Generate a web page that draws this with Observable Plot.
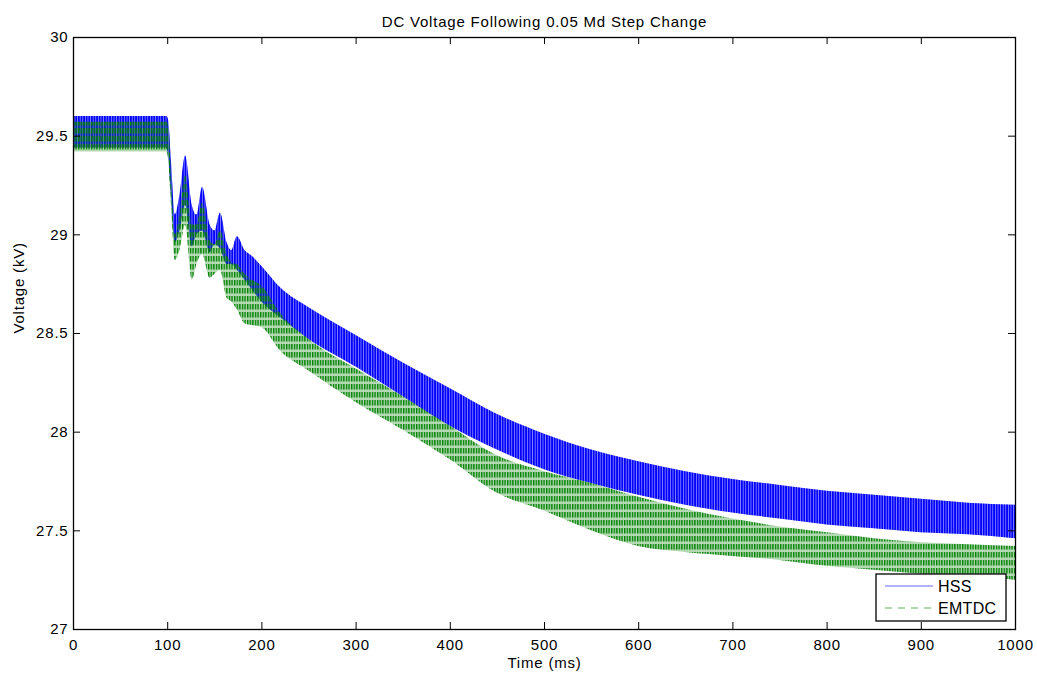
<!DOCTYPE html>
<html>
<head>
<meta charset="utf-8">
<script src="https://cdn.jsdelivr.net/npm/d3@7"></script>
<script src="https://cdn.jsdelivr.net/npm/@observablehq/plot@0.6"></script>
<style>
  html, body { margin: 0; padding: 0; background: #fff; }
  #chart { position: relative; width: 1037px; height: 677px; }
  svg { font-family: "Liberation Sans", Arial, sans-serif; }
  svg text { letter-spacing: 0.8px; }
</style>
</head>
<body>
<div id="chart"></div>
<script>
const titleText = "DC Voltage Following 0.05 Md Step Change";
const xLabel = "Time (ms)";
const yLabel = "Voltage (kV)";
const xTicks = [0, 100, 200, 300, 400, 500, 600, 700, 800, 900, 1000];
const yTicks = [27, 27.5, 28, 28.5, 29, 29.5, 30];
const seriesNames = ["HSS", "EMTDC"];

// sample times (ms) at which the ripple envelopes were read
const timeMs = [0, 99, 101, 104, 108, 113, 119, 126, 131, 137, 145, 150, 156, 163, 168, 174, 182, 190, 200, 220, 250, 300, 350, 400, 450, 500, 550, 600, 650, 700, 750, 800, 850, 900, 950, 1000];
// HSS ripple envelope (kV)
const hssHi = [29.60, 29.60, 29.58, 29.37, 29.10, 29.20, 29.40, 29.15, 29.10, 29.24, 29.05, 29.02, 29.11, 28.96, 28.92, 28.99, 28.92, 28.89, 28.84, 28.73, 28.63, 28.49, 28.35, 28.22, 28.09, 27.99, 27.91, 27.85, 27.80, 27.76, 27.73, 27.70, 27.68, 27.66, 27.64, 27.63];
const hssLo = [29.44, 29.44, 29.40, 29.20, 28.96, 29.02, 29.15, 28.94, 29.00, 29.02, 28.91, 28.95, 28.93, 28.85, 28.85, 28.82, 28.77, 28.72, 28.66, 28.58, 28.47, 28.33, 28.18, 28.03, 27.91, 27.81, 27.74, 27.68, 27.63, 27.59, 27.56, 27.53, 27.51, 27.49, 27.48, 27.46];
// EMTDC ripple envelope (kV)
const emtHi = [29.57, 29.57, 29.55, 29.30, 29.00, 29.10, 29.30, 29.05, 29.05, 29.16, 28.97, 28.95, 29.02, 28.90, 28.86, 28.85, 28.80, 28.77, 28.74, 28.60, 28.47, 28.32, 28.18, 28.03, 27.88, 27.80, 27.74, 27.67, 27.61, 27.56, 27.52, 27.49, 27.46, 27.44, 27.43, 27.42];
const emtLo = [29.42, 29.42, 29.38, 29.15, 28.87, 28.92, 29.05, 28.77, 28.85, 28.90, 28.78, 28.80, 28.82, 28.68, 28.66, 28.62, 28.55, 28.54, 28.53, 28.41, 28.31, 28.15, 28.01, 27.86, 27.69, 27.60, 27.50, 27.42, 27.39, 27.37, 27.35, 27.32, 27.30, 27.28, 27.27, 27.25];

const hssData = timeMs.map((t, i) => ({t, hi: hssHi[i], lo: hssLo[i]}));
const emtData = timeMs.map((t, i) => ({t, hi: emtHi[i], lo: emtLo[i]}));

const W = 1037, H = 677;
const mL = 73, mR = 22, mT = 37, mB = 48;
const frameW = W - mL - mR, frameH = H - mT - mB;
const tick = 7;
const FS = 15;

const plot = Plot.plot({
  width: W, height: H,
  marginLeft: mL, marginRight: mR, marginTop: mT, marginBottom: mB,
  style: {fontFamily: "Liberation Sans, Arial, sans-serif", fontSize: FS + "px", background: "white"},
  x: {domain: [0, 1000]},
  y: {domain: [27, 30]},
  marks: [
    Plot.areaY(hssData, {x: "t", y1: "lo", y2: "hi", fill: "#0000ff", fillOpacity: 0.25, curve: "monotone-x"}),
    Plot.areaY(hssData, {x: "t", y1: "lo", y2: "hi", fill: "url(#hssPat)", curve: "monotone-x"}),
    Plot.areaY(emtData, {x: "t", y1: "lo", y2: "hi", fill: "#008000", fillOpacity: 0.3, curve: "monotone-x"}),
    Plot.areaY(emtData, {x: "t", y1: "lo", y2: "hi", fill: "url(#emtPat)", curve: "monotone-x"}),
    // inward ticks (MATLAB style) on all four sides
    Plot.tickX(xTicks, {x: d => d, insetTop: frameH - tick, stroke: "black"}),
    Plot.tickX(xTicks, {x: d => d, insetBottom: frameH - tick, stroke: "black"}),
    Plot.tickY(yTicks, {y: d => d, insetRight: frameW - tick, stroke: "black"}),
    Plot.tickY(yTicks, {y: d => d, insetLeft: frameW - tick, stroke: "black"}),
    Plot.frame({stroke: "black", strokeWidth: 1.3}),
    Plot.axisX(xTicks, {tickSize: 0, tickPadding: 10, label: null, fontSize: FS, tickFormat: d => String(d)}),
    Plot.axisY(yTicks, {tickSize: 0, tickPadding: 5, label: null, fontSize: FS, tickFormat: d => String(d)}),
    Plot.text([titleText], {frameAnchor: "top", dy: -21, fontSize: FS, text: d => d}),
    Plot.text([xLabel], {frameAnchor: "bottom", dy: 38, fontSize: FS, text: d => d}),
    Plot.text([yLabel], {frameAnchor: "left", dx: -54, rotate: -90, fontSize: FS, text: d => d})
  ]
});

const svg = d3.select(plot);
const defs = svg.insert("defs", ":first-child");
const hp = defs.append("pattern").attr("id", "hssPat").attr("patternUnits", "userSpaceOnUse")
  .attr("width", 2.6).attr("height", 10);
hp.append("rect").attr("x", 0).attr("y", 0).attr("width", 2.0).attr("height", 10).attr("fill", "#0000ff");
const ep = defs.append("pattern").attr("id", "emtPat").attr("patternUnits", "userSpaceOnUse")
  .attr("width", 2.6).attr("height", 8);
ep.append("rect").attr("x", 0).attr("y", 0).attr("width", 1.4).attr("height", 5.5).attr("fill", "#008000");

// legend
const lg = svg.append("g").attr("font-family", "Liberation Sans, Arial, sans-serif")
  .attr("font-size", 16).attr("text-anchor", "start");
lg.append("rect").attr("x", 876).attr("y", 574).attr("width", 130).attr("height", 47)
  .attr("fill", "white").attr("stroke", "black").attr("stroke-width", 1.3);
lg.append("line").attr("x1", 885).attr("x2", 933).attr("y1", 586).attr("y2", 586)
  .attr("stroke", "#0000ff").attr("stroke-width", 1.2).attr("stroke-opacity", 0.6);
lg.append("text").attr("x", 938).attr("y", 592).attr("style", "letter-spacing:0.3px").text(seriesNames[0]);
lg.append("line").attr("x1", 885).attr("x2", 933).attr("y1", 608).attr("y2", 608)
  .attr("stroke", "#008000").attr("stroke-width", 1.2).attr("stroke-opacity", 0.6).attr("stroke-dasharray", "7,6");
lg.append("text").attr("x", 938).attr("y", 614).attr("style", "letter-spacing:0.3px").text(seriesNames[1]);

document.getElementById("chart").appendChild(plot);
</script>
</body>
</html>
